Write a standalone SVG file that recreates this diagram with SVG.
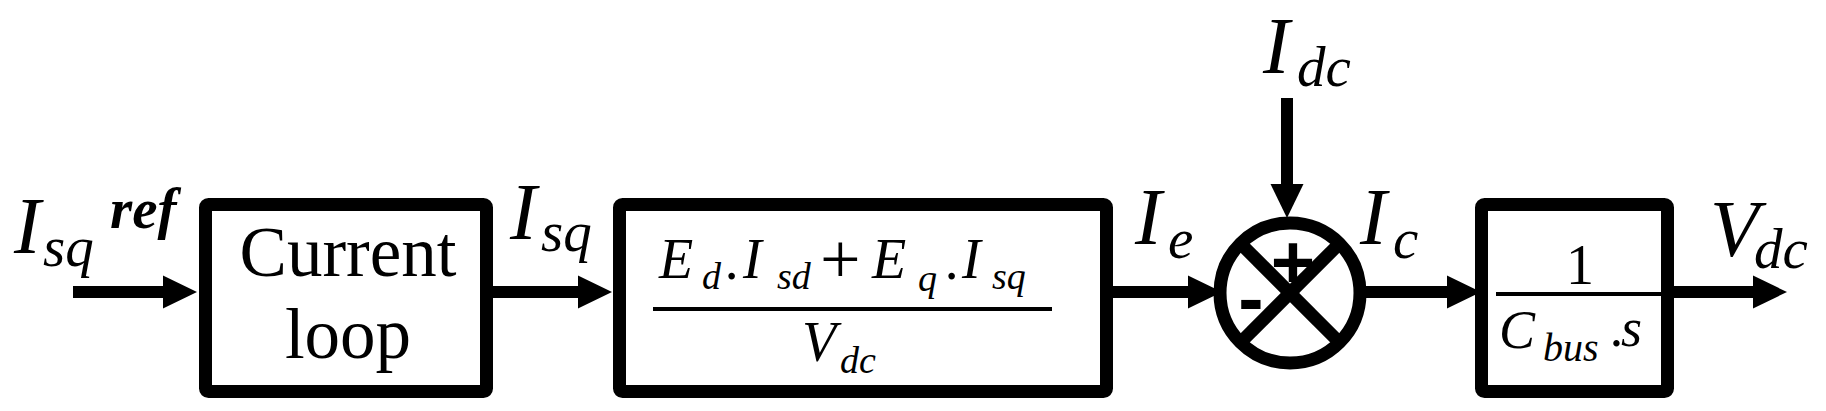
<svg xmlns="http://www.w3.org/2000/svg" width="1826" height="411" viewBox="0 0 1826 411">
<style>
.box{fill:#fff;stroke:#000;stroke-width:13}
.wire{stroke:#000;stroke-width:12;fill:none}
.frac{stroke:#000;stroke-width:4}
.it{font-family:'Liberation Serif','Times New Roman',serif;font-style:italic;fill:#000}
.rm{font-family:'Liberation Serif','Times New Roman',serif;fill:#000}
.sg{font-family:'Liberation Sans',Arial,sans-serif;font-weight:bold;fill:#000}
</style>
<defs>
<marker id="ah" markerUnits="userSpaceOnUse" markerWidth="34" markerHeight="34" refX="0" refY="16.5" orient="auto" overflow="visible">
<path d="M0,0 L34,16.5 L0,33 Z" fill="#000"/>
</marker>
</defs>
<rect width="1826" height="411" fill="#fff"/>
<g id="connectors">
<line class="wire" x1="73" y1="292" x2="163" y2="292" marker-end="url(#ah)"/>
<line class="wire" x1="490" y1="292" x2="578" y2="292" marker-end="url(#ah)"/>
<line class="wire" x1="1110" y1="292" x2="1188" y2="292" marker-end="url(#ah)"/>
<line class="wire" x1="1287" y1="98" x2="1287" y2="184" marker-end="url(#ah)"/>
<line class="wire" x1="1360" y1="292" x2="1447" y2="292" marker-end="url(#ah)"/>
<line class="wire" x1="1670" y1="292" x2="1753" y2="292" marker-end="url(#ah)"/>
</g>
<g id="label-isqref">
<text class="it"><tspan x="14" y="253" font-size="80">I</tspan><tspan x="43" y="266" font-size="57">sq</tspan><tspan x="110" y="228" font-size="57" font-weight="bold">ref</tspan></text>
</g>
<g id="current-loop">
<rect class="box" x="205.5" y="204.5" width="281" height="187" rx="3"/>
<text class="rm" font-size="71" text-anchor="middle"><tspan x="348" y="276">Current</tspan><tspan x="348" y="358">loop</tspan></text>
</g>
<g id="label-isq">
<text class="it"><tspan x="510" y="239" font-size="80">I</tspan><tspan x="541" y="251" font-size="57">sq</tspan></text>
</g>
<g id="power-block">
<rect class="box" x="619.5" y="204.5" width="487" height="187" rx="3"/>
<text class="it" font-size="56"><tspan x="659" y="278">E</tspan><tspan x="702" y="289" font-size="38">d</tspan><tspan x="726" y="279">.</tspan><tspan x="743" y="278">I</tspan><tspan x="777" y="289" font-size="38">sd</tspan><tspan x="820" y="283" font-style="normal" font-size="72">+</tspan><tspan x="872" y="278">E</tspan><tspan x="918" y="291" font-size="38">q</tspan><tspan x="946" y="279">.</tspan><tspan x="962" y="278">I</tspan><tspan x="992" y="289" font-size="38">sq</tspan></text>
<line class="frac" x1="653" y1="309" x2="1052" y2="309"/>
<text class="it" font-size="56"><tspan x="802" y="361">V</tspan><tspan x="840" y="373" font-size="38">dc</tspan></text>
</g>
<g id="label-ie">
<text class="it"><tspan x="1135" y="244" font-size="80">I</tspan><tspan x="1168" y="258" font-size="57">e</tspan></text>
</g>
<g id="label-idc">
<text class="it"><tspan x="1263" y="73" font-size="80">I</tspan><tspan x="1297" y="86" font-size="57">dc</tspan></text>
</g>
<g id="sum">
<circle cx="1290" cy="293" r="70" fill="#fff" stroke="#000" stroke-width="13"/>
<line x1="1240" y1="243" x2="1340" y2="343" stroke="#000" stroke-width="13"/>
<line x1="1340" y1="243" x2="1240" y2="343" stroke="#000" stroke-width="13"/>
<text class="sg" font-size="76" x="1293" y="288" text-anchor="middle">+</text>
<text class="sg" font-size="76" x="1251" y="324" text-anchor="middle">-</text>
</g>
<g id="label-ic">
<text class="it"><tspan x="1360" y="244" font-size="80">I</tspan><tspan x="1393" y="258" font-size="57">c</tspan></text>
</g>
<g id="bus-block">
<rect class="box" x="1481.5" y="204.5" width="186" height="187" rx="3"/>
<text class="rm" font-size="56" x="1580" y="284" text-anchor="middle">1</text>
<line class="frac" x1="1496" y1="294" x2="1662" y2="294"/>
<text class="it" font-size="54"><tspan x="1499" y="348">C</tspan><tspan x="1543" y="361" font-size="40">bus</tspan><tspan x="1611" y="346">.</tspan><tspan x="1621" y="346">s</tspan></text>
</g>
<g id="label-vdc">
<text class="it"><tspan x="1710" y="256" font-size="80">V</tspan><tspan x="1754" y="268" font-size="57">dc</tspan></text>
</g>
</svg>
